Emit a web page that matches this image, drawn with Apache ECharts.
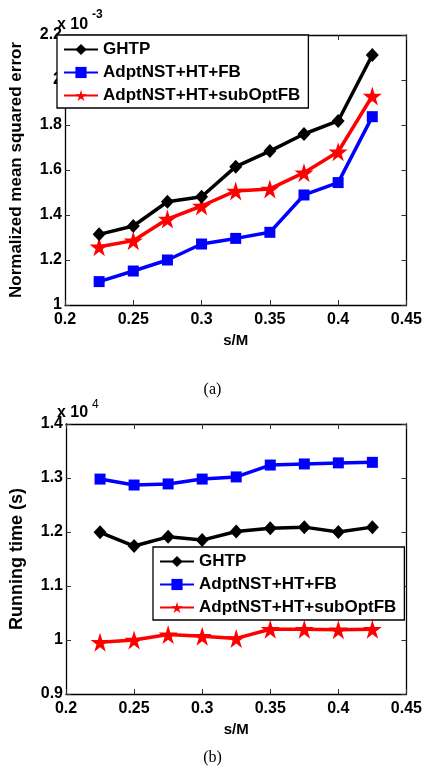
<!DOCTYPE html>
<html><head><meta charset="utf-8">
<script src="https://cdn.jsdelivr.net/npm/echarts@6/dist/echarts.min.js"></script>
<style>html,body{margin:0;padding:0;background:#fff}#c{width:425px;height:773px}</style>
</head><body><div id="c"></div>
<script>
// s/M values
const sM = [0.225, 0.25, 0.275, 0.3, 0.325, 0.35, 0.375, 0.4, 0.425];
const names = ['GHTP', 'AdptNST+HT+FB', 'AdptNST+HT+subOptFB'];
// (a) Normalized mean squared error (x 10^-3)
const nmseGHTP = [1.314, 1.351, 1.459, 1.481, 1.615, 1.684, 1.760, 1.818, 2.111];
const nmseFB = [1.104, 1.151, 1.200, 1.271, 1.296, 1.323, 1.489, 1.544, 1.837];
const nmseSub = [1.259, 1.286, 1.382, 1.440, 1.507, 1.516, 1.588, 1.681, 1.929];
// (b) Running time (s) (x 10^4)
const timeGHTP = [1.1995, 1.174, 1.191, 1.185, 1.201, 1.207, 1.209, 1.200, 1.209];
const timeFB = [1.298, 1.287, 1.289, 1.298, 1.302, 1.324, 1.326, 1.328, 1.329];
const timeSub = [0.996, 1.000, 1.010, 1.007, 1.003, 1.020, 1.020, 1.019, 1.020];

const FONT = '"Liberation Sans", Arial, sans-serif';
const STAR = 'path://M50,0 L61,35 L98,35 L68,57 L79,91 L50,70 L21,91 L32,57 L2,35 L39,35 Z';
const colors = ['#000000', '#0000ff', '#ff0000'];
const symbols = ['diamond', 'rect', STAR];
const symSizes = [[13, 14], 11, 19];

function pairs(ys) { return sM.map((x, i) => [x, ys[i]]); }

const lineAx = {show: true, onZero: false, lineStyle: {color: '#000', width: 1.3}};
const tickIn = {show: true, inside: true, length: 5, lineStyle: {color: '#333', width: 1}};
const lbl = {color: '#000', fontFamily: FONT, fontWeight: 'bold', fontSize: 16};

function xAxes(g) {
  return [
    {gridIndex: g, type: 'value', min: 0.2, max: 0.45, interval: 0.05, position: 'bottom',
     axisLine: lineAx, axisTick: tickIn, splitLine: {show: false},
     axisLabel: Object.assign({margin: 7}, lbl),
     name: 's/M', nameLocation: 'middle', nameGap: 28,
     nameTextStyle: {color: '#000', fontFamily: FONT, fontWeight: 'bold', fontSize: 15}},
    {gridIndex: g, type: 'value', min: 0.2, max: 0.45, interval: 0.05, position: 'top',
     axisLine: lineAx, axisTick: tickIn, splitLine: {show: false}, axisLabel: {show: false}}
  ];
}
function yAxes(g, min, max, interval, name, fs) {
  return [
    {gridIndex: g, type: 'value', min: min, max: max, interval: interval, position: 'left',
     axisLine: lineAx, axisTick: tickIn, splitLine: {show: false},
     axisLabel: Object.assign({margin: 3}, lbl),
     name: name, nameLocation: 'middle', nameGap: 40,
     nameTextStyle: {color: '#000', fontFamily: FONT, fontWeight: 'bold', fontSize: fs}},
    {gridIndex: g, type: 'value', min: min, max: max, interval: interval, position: 'right',
     axisLine: lineAx, axisTick: tickIn, splitLine: {show: false}, axisLabel: {show: false}}
  ];
}

function mkSeries(g, arrs) {
  return arrs.map((a, i) => ({
    name: names[i], type: 'line', xAxisIndex: g * 2, yAxisIndex: g * 2,
    data: pairs(a), symbol: symbols[i], symbolSize: symSizes[i],
    lineStyle: {color: colors[i], width: 3.5}, itemStyle: {color: colors[i]},
    showAllSymbol: true, animation: false, z: 3 - i + 2
  }));
}

const legendText = {color: '#000', fontFamily: FONT, fontWeight: 'bold', fontSize: 17};
function mkLegend(left, top) {
  return {data: names, orient: 'vertical', left: left, top: top,
    borderColor: '#000', borderWidth: 1.3, backgroundColor: '#fff',
    padding: [6, 8, 4, 6], itemGap: 6, itemWidth: 34, itemHeight: 14,
    textStyle: legendText, selectedMode: false, z: 10};
}

const chart = echarts.init(document.getElementById('c'), null, {renderer: 'canvas'});
chart.setOption({
  animation: false,
  backgroundColor: '#fff',
  grid: [
    {left: 56, top: 35, width: 351, height: 270},
    {left: 56, top: 424, width: 351, height: 270}
  ],
  xAxis: xAxes(0).concat(xAxes(1)),
  yAxis: yAxes(0, 1, 2.2, 0.2, 'Normalized mean squared error', 17)
    .concat(yAxes(1, 0.9, 1.4, 0.1, 'Running time (s)', 18)),
  legend: [mkLegend(57, 35), mkLegend(153, 547)],
  series: mkSeries(0, [nmseGHTP, nmseFB, nmseSub]).concat(mkSeries(1, [timeGHTP, timeFB, timeSub])),
  graphic: [
    {type: 'text', left: 57, top: 17, style: {text: 'x 10', font: 'bold 16px ' + FONT, fill: '#000'}},
    {type: 'text', left: 92, top: 9, style: {text: '-3', font: 'bold 12px ' + FONT, fill: '#000'}},
    {type: 'text', left: 57, top: 405, style: {text: 'x 10', font: 'bold 16px ' + FONT, fill: '#000'}},
    {type: 'text', left: 92, top: 399, style: {text: '4', font: '12px ' + FONT, fill: '#000'}},
    {type: 'text', left: 'center', top: 382, style: {text: '(a)', font: '16px "Liberation Serif", "Times New Roman", serif', fill: '#000'}},
    {type: 'text', left: 'center', top: 750, style: {text: '(b)', font: '16px "Liberation Serif", "Times New Roman", serif', fill: '#000'}}
  ]
});
</script></body></html>
